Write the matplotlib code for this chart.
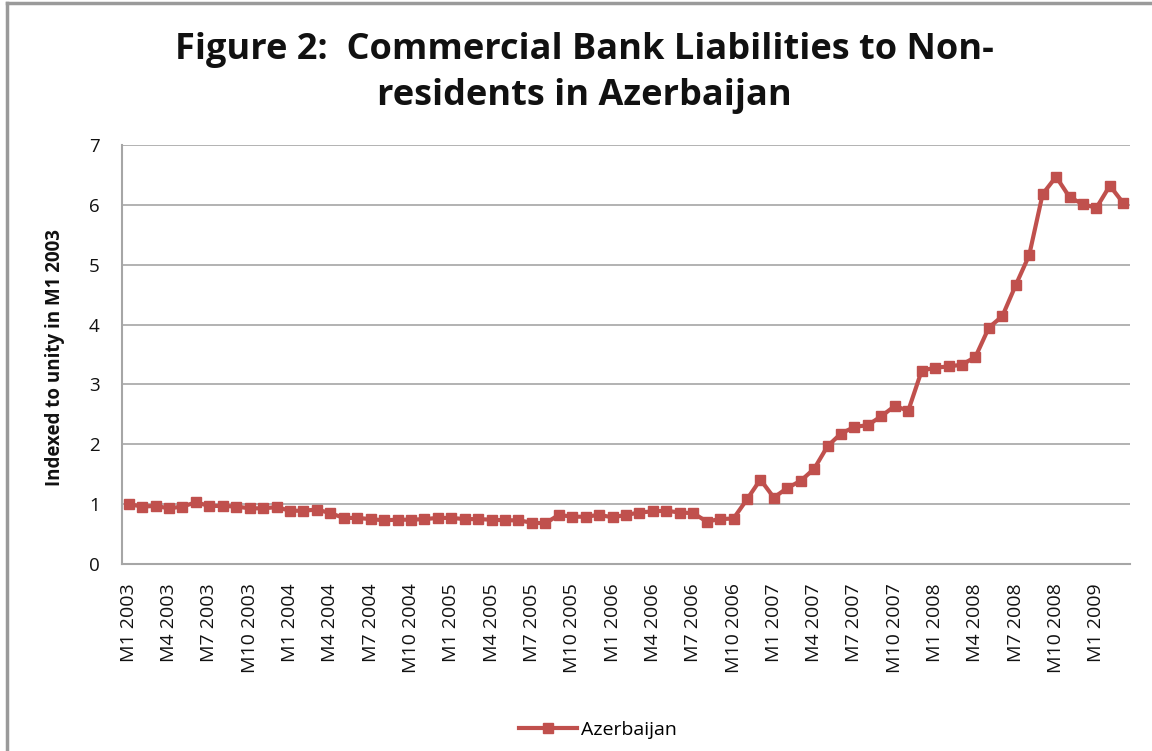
import matplotlib
matplotlib.use("Agg")
import matplotlib.pyplot as plt
from matplotlib.lines import Line2D

months = [f"M{m} {y}" for y in range(2003, 2010) for m in range(1, 13)][:75]
values = [1.00, 0.96, 0.97, 0.93, 0.96, 1.03, 0.97, 0.97, 0.96, 0.93, 0.93, 0.95,
          0.89, 0.89, 0.91, 0.85, 0.77, 0.77, 0.75, 0.73, 0.74, 0.74, 0.75, 0.77,
          0.77, 0.75, 0.75, 0.74, 0.73, 0.73, 0.69, 0.68, 0.82, 0.79, 0.79, 0.82,
          0.78, 0.82, 0.86, 0.88, 0.89, 0.86, 0.85, 0.71, 0.75, 0.76, 1.08, 1.41,
          1.11, 1.27, 1.39, 1.59, 1.97, 2.18, 2.29, 2.32, 2.47, 2.64, 2.56, 3.23,
          3.28, 3.30, 3.33, 3.46, 3.95, 4.14, 4.66, 5.16, 6.18, 6.47, 6.13, 6.01,
          5.95, 6.32, 6.03]
series_name = "Azerbaijan"
title = "Figure 2:  Commercial Bank Liabilities to Non-\nresidents in Azerbaijan"
ylabel = "Indexed to unity in M1 2003"
yticks = [0, 1, 2, 3, 4, 5, 6, 7]

plt.rcParams['font.family'] = ['Open Sans', 'DejaVu Sans']

W, H = 1152, 751
fig = plt.figure(figsize=(W / 100, H / 100), dpi=100)
ax = fig.add_axes([122 / W, 1 - 564 / H, (1130 - 122) / W, (564 - 145) / H])

x = list(range(len(values)))
ax.plot(x, values, color="#C0504D", lw=3, marker="s", markersize=7.5,
        markeredgecolor="#C0504D", label=series_name)

ax.set_xlim(-0.5, len(values) - 0.5)
ax.set_ylim(0, 7)
ax.set_yticks(yticks)
ax.set_yticklabels([str(v) for v in yticks], fontsize=13.5, color="#111111")
tick_pos = list(range(0, len(values), 3))
ax.set_xticks(tick_pos)
ax.set_xticklabels([months[i] for i in tick_pos], rotation=90, fontsize=14,
                   color="#111111")
ax.tick_params(axis="x", length=0, pad=14)
ax.tick_params(axis="y", length=0, pad=16)
ax.grid(axis="y", color="#A6A6A6", lw=1.2)
ax.set_axisbelow(True)
for s in ["top", "right"]:
    ax.spines[s].set_visible(False)
for s in ["left", "bottom"]:
    ax.spines[s].set_color("#A6A6A6")
    ax.spines[s].set_linewidth(1.5)

fig.text(584 / W, 1 - 73 / H, title, ha="center", va="center", fontsize=26,
         fontweight="bold", linespacing=1.4, color="#111111")
fig.text(55 / W, 1 - 357 / H, ylabel, rotation=90, ha="center", va="center",
         fontsize=13.5, fontweight="bold", color="#111111")

leg = fig.legend(handles=[Line2D([0], [0], color="#C0504D", lw=3, marker="s",
                                 markersize=7.5)],
                 labels=[series_name], loc="center", bbox_to_anchor=(598 / W, 1 - 730 / H),
                 frameon=False, fontsize=14, handlelength=3.0, handletextpad=0.2)

# outer chart frame
fig.add_artist(Line2D([7 / W, 7 / W], [0, 1 - 3 / H], color="#9A9A9A", lw=2.5,
                      transform=fig.transFigure))
fig.add_artist(Line2D([7 / W, 1], [1 - 3 / H, 1 - 3 / H], color="#9A9A9A", lw=2.5,
                      transform=fig.transFigure))

fig.savefig("out.png", dpi=100)
